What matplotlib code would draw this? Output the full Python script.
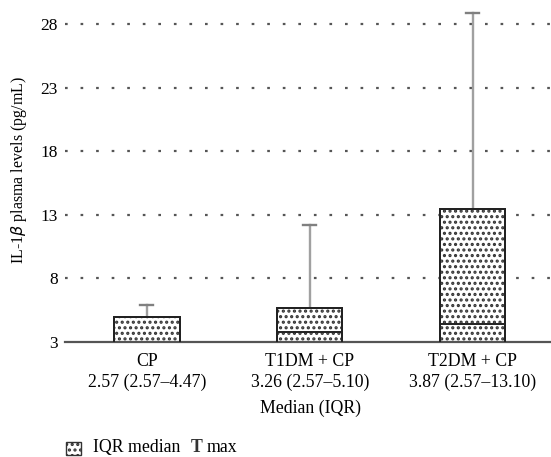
import numpy as np
import matplotlib.pyplot as plt
from matplotlib.patches import Rectangle

plt.rcParams['font.family'] = ['Liberation Serif', 'DejaVu Serif']
plt.rcParams['hatch.linewidth'] = 1.5

# values
groups = ['CP', 'T1DM + CP', 'T2DM + CP']
summary = ['2.57 (2.57\u20134.47)', '3.26 (2.57\u20135.10)', '3.87 (2.57\u201313.10)']
q1 = [2.57, 2.57, 2.57]
median = [2.57, 3.8, 4.4]
q3 = [5.0, 5.65, 13.5]
vmax = [5.9, 12.2, 28.9]
yticks = [3, 8, 13, 18, 23, 28]

x = np.arange(len(groups))
q1 = np.array(q1)
q3 = np.array(q3)

fig = plt.figure(figsize=(5.51, 4.57), dpi=100)
ax = fig.add_axes([0.118, 0.2516, 0.882, 0.737])

for yt in yticks[1:]:
    ax.axhline(yt, color='#555555', lw=1.6, ls=(0, (1.2, 5.8)), zorder=0)

# whiskers up to the max
for xi, top, mx in zip(x, q3, vmax):
    ax.plot([xi, xi], [top, mx], color='#a0a0a0', lw=1.7, zorder=1)
    ax.plot([xi - 0.04, xi + 0.04], [mx, mx], color='#808080', lw=1.7, zorder=1)

ax.bar(x, q3 - q1, bottom=q1, width=0.4, facecolor='white', edgecolor='#333333',
       hatch='...', linewidth=1.3, zorder=2)
ax.bar(x, q3 - q1, bottom=q1, width=0.4, facecolor='none', edgecolor='#222222',
       linewidth=1.4, zorder=3)
for xi, md in zip(x, median):
    ax.plot([xi - 0.2, xi + 0.2], [md, md], color='#222222', lw=1.4, zorder=3)

ax.set_xlim(-0.503, 2.48)
ax.set_ylim(3, 29.5)
ax.set_yticks(yticks)
ax.tick_params(axis='y', length=0, pad=5, labelsize=12.5)
ax.tick_params(axis='x', length=0, pad=8, labelsize=12.8)
ax.set_xticks(x)
ax.set_xticklabels([g + '\n' + s for g, s in zip(groups, summary)], linespacing=1.25)

for side in ['top', 'right', 'left']:
    ax.spines[side].set_visible(False)
ax.spines['bottom'].set_color('#555555')
ax.spines['bottom'].set_linewidth(1.6)

ax.set_ylabel('IL-1$\\beta$ plasma levels (pg/mL)', fontsize=11.5)
ax.yaxis.set_label_coords(-0.075, 0.51)
fig.text(311 / 551, 1 - 408 / 457, 'Median (IQR)', ha='center', va='center', fontsize=12.8)

# legend drawn by hand
fig.patches.append(Rectangle((66 / 551, 1 - 455 / 457), 15 / 551, 13 / 457,
                             transform=fig.transFigure, facecolor='white',
                             edgecolor='#333333', hatch='...', lw=1.0))
base = 1 - 452 / 457
fig.text(93 / 551, base, 'IQR median', ha='left', va='baseline', fontsize=12.8)
fig.text(191 / 551, base, 'T', ha='left', va='baseline', fontsize=12.8,
         color='#333333', fontweight='bold')
fig.text(207 / 551, base, 'max', ha='left', va='baseline', fontsize=12.8)

fig.savefig('out.png', dpi=100)
